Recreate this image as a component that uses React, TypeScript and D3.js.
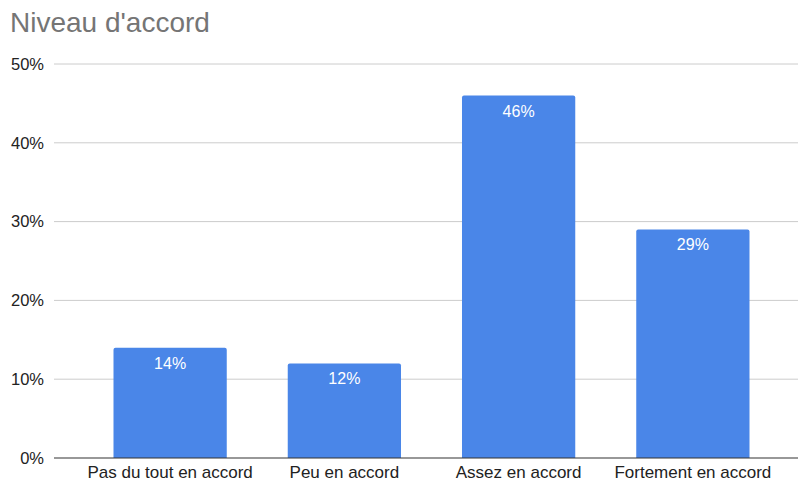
import React from "react";
import * as d3 from "d3";

const categories = ["Pas du tout en accord", "Peu en accord", "Assez en accord", "Fortement en accord"];
const values = [14, 12, 46, 29];
const yTicks = [0, 10, 20, 30, 40, 50];
const title = "Niveau d'accord";

const W = 801;
const H = 482;
const font = "'Liberation Sans', Arial, sans-serif";

export default function App() {
  const x = d3.scaleBand<string>().domain(categories).range([83, 780]).paddingInner(0.35).paddingOuter(0.175);
  const y = d3.scaleLinear().domain([0, 50]).range([458, 64]);
  const r = 2;
  return (
    <svg width={W} height={H} style={{ position: "absolute", left: 0, top: 0, background: "#fff" }}>
      <text x={10} y={32} fontFamily={font} fontSize={28} fill="#757575">{title}</text>
      {yTicks.map((t) => (
        <g key={t}>
          {t !== 0 && <line x1={54} x2={798} y1={y(t)} y2={y(t)} stroke="#cccccc" strokeWidth={1} />}
          <text x={44} y={y(t)} dy="0.35em" textAnchor="end" fontFamily={font} fontSize={16.5} fill="#222">{t}%</text>
        </g>
      ))}
      {categories.map((c, i) => {
        const x0 = x(c)!;
        const bw = x.bandwidth();
        const yt = y(values[i]);
        const yb = y(0);
        const path = `M${x0},${yb}V${yt + r}Q${x0},${yt} ${x0 + r},${yt}H${x0 + bw - r}Q${x0 + bw},${yt} ${x0 + bw},${yt + r}V${yb}Z`;
        return (
          <g key={c}>
            <path d={path} fill="#4a86e8" />
            <text x={x0 + bw / 2} y={yt + 21} textAnchor="middle" fontFamily={font} fontSize={16} fill="#fff">{values[i]}%</text>
            <text x={x0 + bw / 2} y={478} textAnchor="middle" fontFamily={font} fontSize={17} fill="#222">{c}</text>
          </g>
        );
      })}
      <line x1={54} x2={798} y1={y(0)} y2={y(0)} stroke="#333" strokeWidth={1.2} />
    </svg>
  );
}
